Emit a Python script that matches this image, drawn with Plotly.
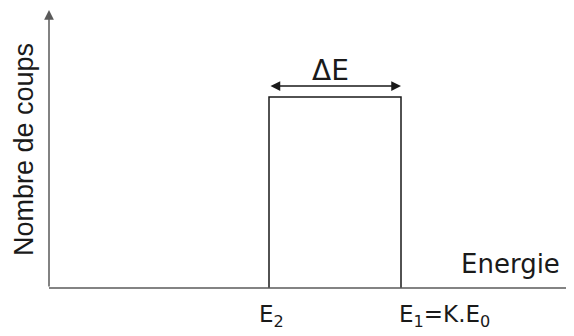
import plotly.graph_objects as go

# Data (arbitrary units)
energy_labels = ["E<sub>2</sub>", "E<sub>1</sub>=K.E<sub>0</sub>"]
energy_edges = [1.0, 1.6]      # E2, E1
count_level = [1.0]            # Nombre de coups dans la fenêtre
x_title = "Energie"
y_title = "Nombre de coups"
width_label = "ΔE"

E2, E1 = energy_edges
H = count_level[0]

# page has an 8px body margin: figure is 566x328, shifted by 8px
W, HT = 566, 328
XPX, YPX = 220.0, 191.0
xr = [-41 / XPX, (W - 41) / XPX]
yr = [-48 / YPX, 280 / YPX]

HAND = "DejaVu Sans, sans-serif"
AXC = "#5a5a5a"
BOXC = "#1a1a1a"

fig = go.Figure()
fig.add_trace(go.Scatter(
    x=[E2, E2, E1, E1], y=[0, H, H, 0], mode="lines",
    line=dict(color=BOXC, width=1.5), hoverinfo="skip", showlegend=False))

# x axis line
fig.add_shape(type="line", x0=0, y0=0, x1=xr[1], y1=0,
              line=dict(color=AXC, width=1.5))

annotations = [
    # y axis arrow
    dict(x=0, y=278 / YPX, ax=0, ay=0, axref="x", ayref="y", xref="x", yref="y",
         showarrow=True, arrowhead=2, arrowsize=1.3, arrowwidth=1.5, arrowcolor=AXC, text=""),
    # Delta E double arrow
    dict(x=E1, y=H + 11 / YPX, ax=E2, ay=H + 11 / YPX, axref="x", ayref="y",
         xref="x", yref="y", showarrow=True, arrowhead=2, startarrowhead=2,
         arrowside="end+start", arrowsize=1.3, startarrowsize=1.3, arrowwidth=1.5,
         arrowcolor=BOXC, text=""),
    dict(x=(E1 + E2) / 2 - 5 / XPX, y=H + 11 / YPX, xref="x", yref="y", text=width_label,
         showarrow=False, yanchor="bottom", yshift=-3,
         font=dict(family=HAND, size=28, color=BOXC)),
    dict(x=xr[1] - 12 / XPX, y=0, xref="x", yref="y", text=x_title, showarrow=False,
         xanchor="right", yanchor="bottom", yshift=7,
         font=dict(family=HAND, size=26, color=BOXC)),
    dict(x=E2 + 2 / XPX, y=0, xref="x", yref="y", text=energy_labels[0], showarrow=False,
         xanchor="center", yanchor="top", yshift=-11,
         font=dict(family=HAND, size=23, color=BOXC)),
    dict(x=E1 + 43 / XPX, y=0, xref="x", yref="y", text=energy_labels[1], showarrow=False,
         xanchor="center", yanchor="top", yshift=-11,
         font=dict(family=HAND, size=23, color=BOXC)),
    dict(x=-25 / XPX, y=138 / YPX, xref="x", yref="y", text=y_title, showarrow=False,
         textangle=-90, font=dict(family="Liberation Sans, Arial, sans-serif", size=27, color=BOXC)),
]

fig.update_layout(
    width=W, height=HT, margin=dict(l=0, r=0, t=0, b=0),
    paper_bgcolor="white", plot_bgcolor="white",
    xaxis=dict(range=xr, visible=False, fixedrange=True),
    yaxis=dict(range=yr, visible=False, fixedrange=True),
    annotations=annotations, showlegend=False,
)
fig.write_html("out.html")
